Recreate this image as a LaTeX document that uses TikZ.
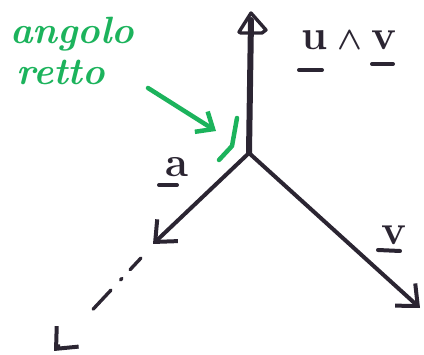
\documentclass[tikz,border=0pt]{standalone}
\usepackage{amsmath}
\usepackage{graphicx}
\usetikzlibrary{arrows.meta}
\definecolor{ink}{HTML}{2B2532}
\definecolor{grn}{HTML}{1CB35C}
\tikzset{
  vec/.style={ink, line width=4pt, line cap=round, line join=round},
  barb/.style={-{Straight Barb[length=17pt, width=30pt, line width=4pt]}},
  gmark/.style={grn, line width=4.5pt, line cap=round, line join=round},
  lbl/.style={ink, inner sep=0pt, font=\fontsize{42}{42}\selectfont\bfseries},
  glbl/.style={grn, inner sep=0pt, font=\fontsize{38}{38}\selectfont\bfseries\itshape},
  ul/.style={ink, line width=4pt, line cap=round}
}
\begin{document}
\begin{tikzpicture}[x=1pt,y=-1pt]
\useasboundingbox (0,0) rectangle (424,355);
\coordinate (O) at (249,153);
\coordinate (T) at (251,20);
\coordinate (V) at (420,308);
\coordinate (A) at (153,244);
\coordinate (A1) at (141,258);
\coordinate (A2) at (54,351);
% vertical vector u ^ v
\draw[vec, line width=6pt] (O) -- (T);
\draw[vec, line width=3.4pt] (239,32) -- (251,13) -- (266,30) -- (262,33) -- (241,33) -- cycle;
% v
\draw[vec, barb] (O) -- (V);
% a
\draw[vec, barb] (O) -- (A);
% dashed continuation
\draw[vec, line width=3.4pt, dash pattern=on 16pt off 12pt on 2pt off 14pt on 26pt off 50pt, barb] (A1) -- (A2);
% right-angle mark
\coordinate (R1) at (219,160);
\coordinate (R2) at (232,146);
\coordinate (R3) at (237,118);
\draw[gmark] (R1) -- (R2) -- (R3);
% green arrow
\coordinate (G1) at (148,88);
\coordinate (G2) at (216,131);
\draw[gmark, -{Straight Barb[length=14pt, width=24pt, line width=4.5pt]}] (G1) -- (G2);
% green text
\node[glbl, anchor=base west, text depth=0pt] (t1) at (10,44) {angolo};
\node[glbl, anchor=base west, text height=17pt] (t2) at (16,85) {retto};
% labels
\node[lbl, anchor=base] (lu) at (315,50) {u};
\node[lbl, anchor=base] (lw) at (350,50) {\scalebox{1.3}{$\boldsymbol{\wedge}$}};
\node[lbl, anchor=base] (lv) at (384,50) {v};
\draw[ul] (299,70) -- (322,70);
\draw[ul] (372,64) -- (393,64);
\node[lbl, anchor=base] (la) at (177,177) {a};
\draw[ul] (159,185) -- (177,185);
\node[lbl, anchor=base] (lv2) at (394,245) {v};
\draw[ul] (378,250) -- (400,251);
\end{tikzpicture}
\end{document}
